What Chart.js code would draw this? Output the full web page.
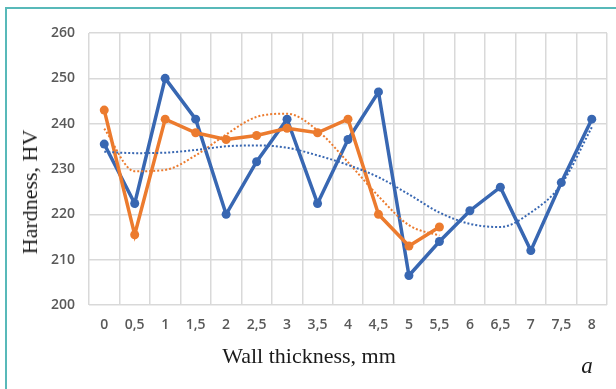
<!DOCTYPE html>
<html>
<head>
<meta charset="utf-8">
<script src="https://cdn.jsdelivr.net/npm/chart.js@4.4.1/dist/chart.umd.min.js"></script>
<style>
  html, body { margin: 0; padding: 0; background: #ffffff; overflow: hidden; width: 616px; height: 389px; }
  #wrap { position: relative; width: 616px; height: 389px; overflow: hidden; background: #fff; }
  .fl { position: absolute; background: #58b9b9; }
  #fleft { left: 5px; top: 7px; width: 1.5px; height: 382px; }
  #ftop { left: 5px; top: 7px; width: 611px; height: 1.5px; }
  canvas { position: absolute; left: 0; top: 0; }
  .t { position: absolute; font-family: "Liberation Serif", "Times New Roman", serif; color: #1a1a1a; white-space: nowrap; line-height: 1; }
  #ytitle { font-size: 22px; left: 30px; top: 192px; transform: translate(-50%, -50%) rotate(-90deg); }
  #xtitle { font-size: 22px; left: 309px; top: 356px; transform: translate(-50%, -50%); }
  #lbl { font-size: 23px; font-style: italic; left: 587px; top: 365px; transform: translate(-50%, -50%); }
</style>
</head>
<body>
<div id="wrap">
  <div class="fl" id="fleft"></div>
  <div class="fl" id="ftop"></div>
  <canvas id="c" width="616" height="389"></canvas>
  <div class="t" id="ytitle">Hardness, HV</div>
  <div class="t" id="xtitle">Wall thickness, mm</div>
  <div class="t" id="lbl">a</div>
</div>
<script>
const categories = ["0","0,5","1","1,5","2","2,5","3","3,5","4","4,5","5","5,5","6","6,5","7","7,5","8"];
const blueValues = [235.5, 222.4, 250, 241, 220, 231.6, 241, 222.4, 236.5, 247, 206.5, 214, 220.8, 226, 212, 227, 241];
const orangeValues = [243, 215.5, 241, 238, 236.5, 237.4, 239, 238, 241, 220, 213, 217.2, null, null, null, null, null];
const blueTrend = [233.8, 233.5, 233.6, 234.2, 235.0, 235.2, 234.7, 233.0, 230.9, 228.2, 224.4, 220.4, 217.9, 217.2, 220.4, 226.6, 239.2];
const orangeTrend = [238.9, 229.5, 229.8, 233.0, 237.6, 241.5, 242.2, 238.5, 231.5, 224.0, 217.6, 215.3, null, null, null, null, null];
const yTicks = [200, 210, 220, 230, 240, 250, 260];

const BLUE = "#3867b2";
const ORANGE = "#ec7b2e";

new Chart(document.getElementById("c"), {
  type: "line",
  data: {
    labels: categories,
    datasets: [
      { data: blueTrend, borderColor: BLUE, borderWidth: 2, borderDash: [2, 2], pointRadius: 0, tension: 0.4, cubicInterpolationMode: "monotone", fill: false, order: 0 },
      { data: orangeTrend, borderColor: ORANGE, borderWidth: 2, borderDash: [2, 2], pointRadius: 0, tension: 0.4, cubicInterpolationMode: "monotone", fill: false, order: 0 },
      { data: orangeValues, borderColor: ORANGE, backgroundColor: ORANGE, borderWidth: 3.5, pointRadius: 4.5, pointBorderWidth: 0, tension: 0, fill: false, order: 1 },
      { data: blueValues, borderColor: BLUE, backgroundColor: BLUE, borderWidth: 3.5, pointRadius: 4.5, pointBorderWidth: 0, tension: 0, fill: false, order: 2 }
    ]
  },
  options: {
    responsive: false,
    animation: false,
    events: [],
    layout: { padding: { left: 0, top: 33, right: 9, bottom: 0 } },
    plugins: { legend: { display: false }, tooltip: { enabled: false }, title: { display: false } },
    scales: {
      x: {
        type: "category",
        offset: true,
        grid: { offset: true, color: "#d9d9d9", lineWidth: 1.5, drawTicks: false },
        border: { display: false },
        ticks: { color: "#595959", font: { family: "Open Sans", size: 14, weight: "600" }, padding: 12, maxRotation: 0, autoSkip: false },
        afterFit: (s) => { s.height = 84; }
      },
      y: {
        min: 200, max: 260,
        afterBuildTicks: (s) => { s.ticks = yTicks.map(v => ({ value: v })); },
        grid: { color: "#d9d9d9", lineWidth: 1.5, drawTicks: false },
        border: { display: false },
        ticks: { color: "#595959", font: { family: "Open Sans", size: 14, weight: "600" }, padding: 14 },
        afterFit: (s) => { s.width = 89; }
      }
    }
  }
});
</script>
</body>
</html>
